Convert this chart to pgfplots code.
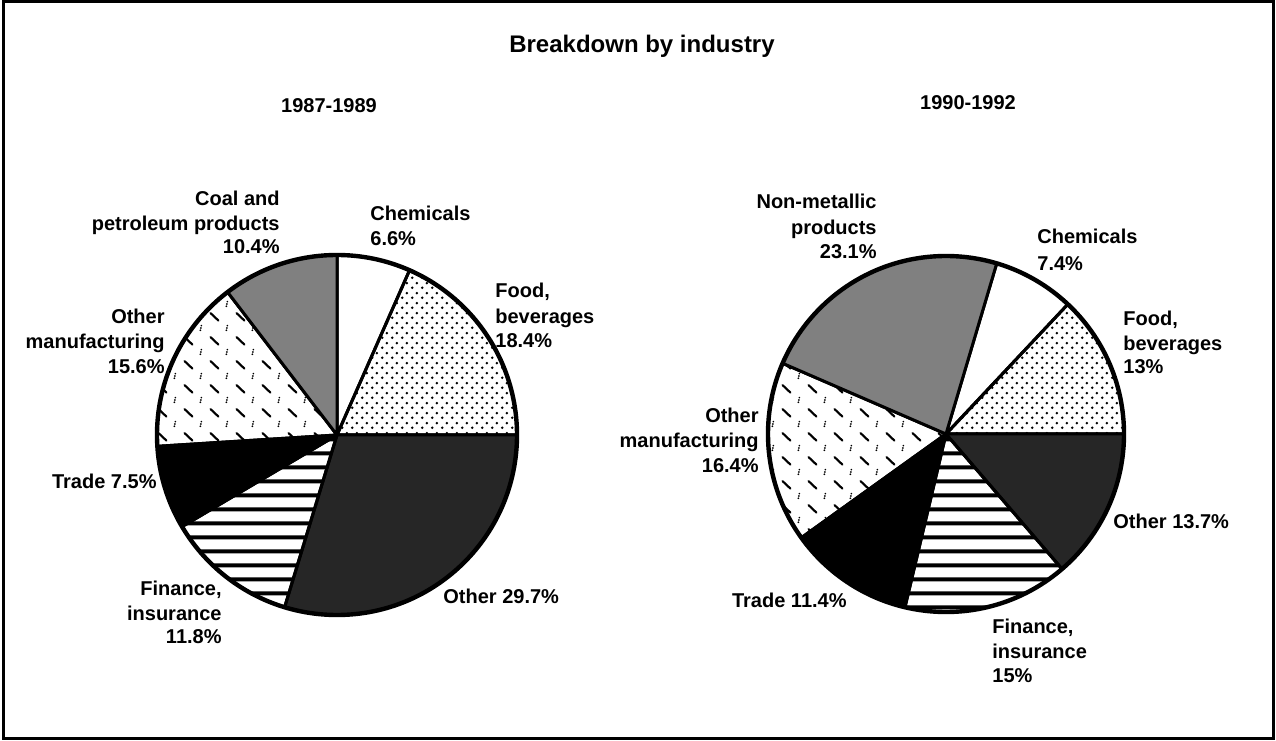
\documentclass[border=0pt]{standalone}
\usepackage{fontspec}
\setmainfont{Liberation Sans}
\usepackage{pgfplots}
\pgfplotsset{compat=1.18}
\usepackage{pgfplotstable}
\usetikzlibrary{patterns}

% fills of the scanned original
\pgfdeclarepatternformonly{fooddots}{\pgfqpoint{0pt}{0pt}}{\pgfqpoint{5pt}{5pt}}{\pgfqpoint{5pt}{5pt}}{%
  \pgfpathcircle{\pgfqpoint{1.25pt}{1.25pt}}{0.75pt}%
  \pgfpathcircle{\pgfqpoint{3.75pt}{3.75pt}}{0.75pt}%
  \pgfusepath{fill}}
\pgfdeclarepatternformonly{finlines}{\pgfqpoint{0pt}{0pt}}{\pgfqpoint{30pt}{7pt}}{\pgfqpoint{30pt}{7pt}}{%
  \pgfpathrectangle{\pgfqpoint{-0.5pt}{2.5pt}}{\pgfqpoint{31pt}{2.1pt}}\pgfusepath{fill}}
\pgfdeclarepatternformonly{manufdash}{\pgfqpoint{0pt}{0pt}}{\pgfqpoint{13pt}{12pt}}{\pgfqpoint{13pt}{12pt}}{%
  \pgfsetlinewidth{1.1pt}\pgfsetroundcap
  \pgfpathmoveto{\pgfqpoint{1.3pt}{9.8pt}}\pgfpathlineto{\pgfqpoint{5.4pt}{5.9pt}}\pgfusepath{stroke}%
  \pgfpathcircle{\pgfqpoint{9.5pt}{0.9pt}}{0.5pt}%
  \pgfpathcircle{\pgfqpoint{9.75pt}{2.1pt}}{0.5pt}%
  \pgfpathcircle{\pgfqpoint{10.0pt}{3.3pt}}{0.5pt}%
  \pgfusepath{fill}}

\tikzset{
  chem/.style={fill=white},
  food/.style={pattern=fooddots,pattern color=black},
  oth/.style={fill=black!85},
  fin/.style={pattern=finlines,pattern color=black},
  trade/.style={fill=black},
  manuf/.style={pattern=manufdash,pattern color=black},
  coal/.style={fill=black!50},
}

% shares in percent, clockwise
\pgfplotstableread{
pct  sty
6.6  chem
18.4 food
29.7 oth
11.8 fin
7.5  trade
15.6 manuf
10.4 coal
}\pieA
\pgfplotstableread{
pct  sty
7.4  chem
13.0 food
13.7 oth
15.0 fin
11.4 trade
16.4 manuf
23.1 coal
}\pieB

% #1 table, #2 #3 centre, #4 radius (axis units, 1 unit = 0.5pt), #5 start angle
\newcommand\drawpie[5]{%
  \edef\tmp{\noexpand\fill[white] (axis cs:#2,#3) circle[radius=#4*0.5pt];}\tmp
  \xdef\pang{#5}%
  \pgfplotstablegetrowsof{#1}%
  \pgfmathtruncatemacro\plast{\pgfplotsretval-1}%
  \foreach \i in {0,...,\plast}{%
    \pgfplotstablegetelem{\i}{pct}\of{#1}\let\ppct\pgfplotsretval
    \pgfplotstablegetelem{\i}{sty}\of{#1}\let\psty\pgfplotsretval
    \pgfmathsetmacro\pend{\pang-3.6*\ppct}%
    \pgfmathsetmacro\psx{#2+#4*cos(\pang)}%
    \pgfmathsetmacro\psy{#3+#4*sin(\pang)}%
    \edef\tmp{\noexpand\path[\psty,draw=black,line width=1.5pt,line join=round]
      (axis cs:#2,#3) -- (axis cs:\psx,\psy)
      arc[start angle=\pang,end angle=\pend,radius=#4*0.5pt] -- cycle;}\tmp
    \xdef\pang{\pend}}%
  \edef\tmp{\noexpand\draw[line width=2.2pt] (axis cs:#2,#3) circle[radius=#4*0.5pt];}\tmp}

\newcommand\lbl{\bfseries\fontsize{10}{12}\selectfont}
\newcommand\lab[4]{\node[anchor=#3,inner sep=0pt,font=\lbl] at (axis cs:#1,{740-#2}) {#4};}

\begin{document}
\begin{tikzpicture}
\begin{axis}[hide axis, x=0.5pt, y=0.5pt,
  xmin=0, xmax=1276, ymin=0, ymax=740, clip=false]

\path (axis cs:0,0) rectangle (axis cs:1276,740);
\draw[line width=1.5pt] (axis cs:3,2) rectangle (axis cs:1273,738);

\node[font=\bfseries\fontsize{12}{14}\selectfont,inner sep=0pt,anchor=mid] at (axis cs:642,{740-47}) {Breakdown by industry};
\lab{329}{107}{mid}{1987-1989}
\lab{968}{104}{mid}{1990-1992}

\drawpie{\pieA}{337}{305}{180}{90}
\drawpie{\pieB}{946}{306}{178}{73.44}

% left pie
\lab{280}{200}{mid east}{Coal and}
\lab{280}{225}{mid east}{petroleum products}
\lab{280}{248}{mid east}{10.4\%}
\lab{370}{215}{mid west}{Chemicals}
\lab{370}{240}{mid west}{6.6\%}
\lab{495}{292}{mid west}{Food,}
\lab{495}{318}{mid west}{beverages}
\lab{495}{342}{mid west}{18.4\%}
\lab{165}{318}{mid east}{Other}
\lab{165}{343}{mid east}{manufacturing}
\lab{165}{368}{mid east}{15.6\%}
\lab{157}{483}{mid east}{Trade 7.5\%}
\lab{222}{590}{mid east}{Finance,}
\lab{222}{615}{mid east}{insurance}
\lab{222}{638}{mid east}{11.8\%}
\lab{443}{598}{mid west}{Other 29.7\%}

% right pie
\lab{877}{203}{mid east}{Non-metallic}
\lab{877}{229}{mid east}{products}
\lab{877}{253}{mid east}{23.1\%}
\lab{1037}{238}{mid west}{Chemicals}
\lab{1037}{265}{mid west}{7.4\%}
\lab{1123}{320}{mid west}{Food,}
\lab{1123}{345}{mid west}{beverages}
\lab{1123}{368}{mid west}{13\%}
\lab{759}{417}{mid east}{Other}
\lab{759}{442}{mid east}{manufacturing}
\lab{759}{467}{mid east}{16.4\%}
\lab{847}{602}{mid east}{Trade 11.4\%}
\lab{1113}{523}{mid west}{Other 13.7\%}
\lab{992}{628}{mid west}{Finance,}
\lab{992}{653}{mid west}{insurance}
\lab{992}{677}{mid west}{15\%}
\end{axis}
\end{tikzpicture}
\end{document}
